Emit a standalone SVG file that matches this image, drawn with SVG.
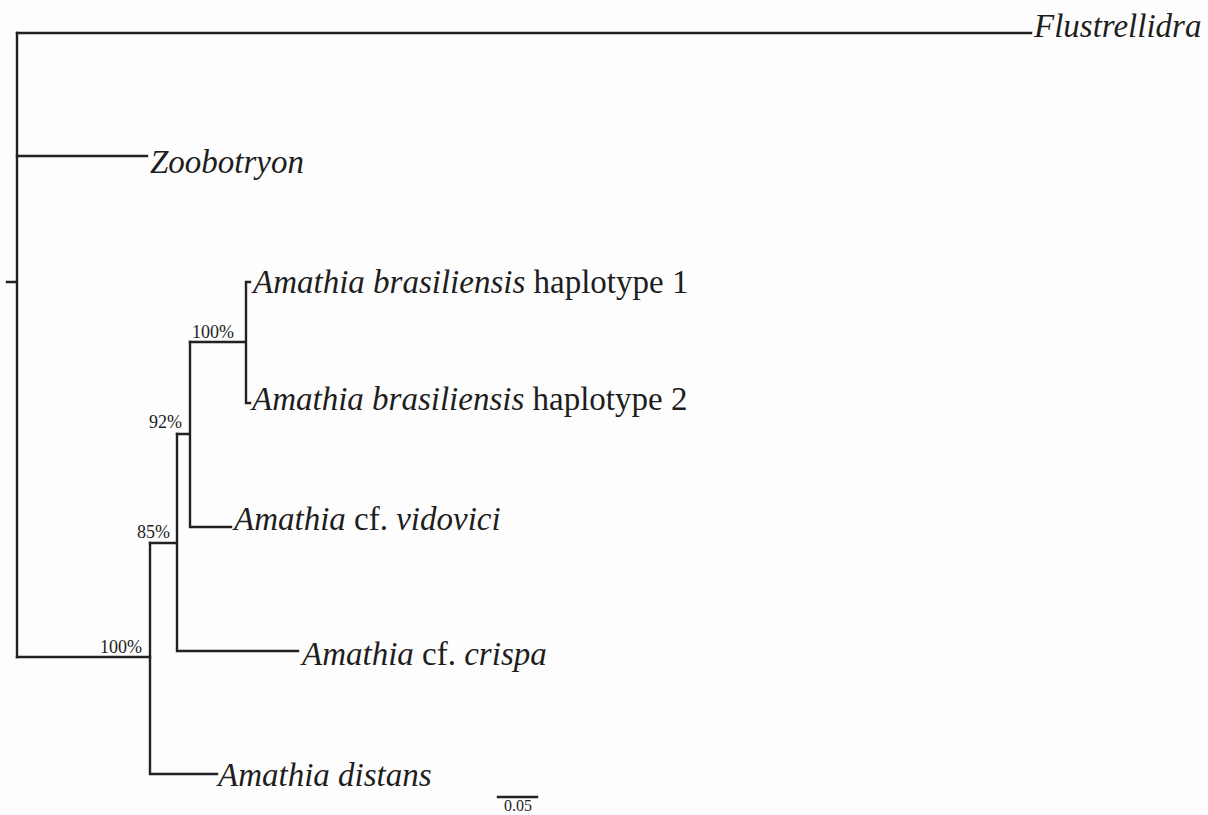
<svg xmlns="http://www.w3.org/2000/svg" width="1208" height="815" viewBox="0 0 1208 815">
  <style>
    .br { fill: none; stroke: #222; stroke-width: 2.4; stroke-linecap: square; }
    .tx { font-family: "Liberation Serif", "Times New Roman", serif; font-size: 33px; fill: #1e1e1e; }
    .it { font-style: italic; }
    .sp { font-family: "Liberation Serif", "Times New Roman", serif; font-size: 18px; fill: #222; text-anchor: end; }
    .sc { font-family: "Liberation Serif", "Times New Roman", serif; font-size: 16px; fill: #222; text-anchor: middle; }
  </style>
  <rect width="1208" height="815" fill="#fdfdfd"/>

  <!-- tree branches -->
  <g id="connectors">
    <!-- root -->
    <path class="br" d="M7 282 H17 M17 33 V657"/>
    <path class="br" d="M17 33 H1031"/>
    <path class="br" d="M17 156 H147"/>
    <path class="br" d="M17 657 H150"/>
    <!-- Amathia clade -->
    <path class="br" d="M150 543 V774 M150 774 H217"/>
    <path class="br" d="M150 543 H177 M177 434 V651 M177 651 H298"/>
    <path class="br" d="M177 434 H190 M190 342 V527 M190 527 H231"/>
    <path class="br" d="M190 342 H246 M246 282 V403 M246 282 H250 M246 403 H250"/>
    <!-- scale bar -->
    <path class="br" d="M498 797 H537" stroke-linecap="butt"/>
  </g>

  <g id="flustrellidra"><text class="tx it" x="1034" y="37">Flustrellidra</text></g>
  <g id="zoobotryon"><text class="tx it" x="150" y="173">Zoobotryon</text></g>
  <g id="brasiliensis1"><text class="tx" x="253" y="293"><tspan class="it">Amathia brasiliensis</tspan> haplotype 1</text></g>
  <g id="brasiliensis2"><text class="tx" x="252" y="410"><tspan class="it">Amathia brasiliensis</tspan> haplotype 2</text></g>
  <g id="vidovici"><text class="tx" x="234" y="530"><tspan class="it">Amathia</tspan> cf. <tspan class="it">vidovici</tspan></text></g>
  <g id="crispa"><text class="tx" x="302" y="665"><tspan class="it">Amathia</tspan> cf. <tspan class="it">crispa</tspan></text></g>
  <g id="distans"><text class="tx it" x="218" y="786">Amathia distans</text></g>

  <!-- bootstrap support -->
  <g id="support">
    <text class="sp" x="234" y="338">100%</text>
    <text class="sp" x="182" y="428">92%</text>
    <text class="sp" x="170" y="538">85%</text>
    <text class="sp" x="142" y="653">100%</text>
  </g>

  <g id="scale"><text class="sc" x="518" y="811">0.05</text></g>
</svg>
